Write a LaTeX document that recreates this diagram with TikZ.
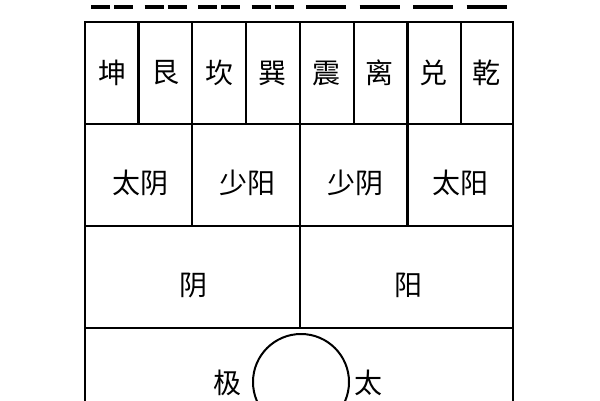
\documentclass[tikz,border=0pt]{standalone}
\usepackage{fontspec}
\newfontfamily\cjk{Noto Sans CJK SC}
\begin{document}
\begin{tikzpicture}[x=1pt,y=-1pt,
  grid/.style={line width=2.8pt,line cap=rect},
  yao/.style={line width=4pt},
  lbl/.style={font=\cjk\fontsize{28}{28}\selectfont,inner sep=0pt,anchor=center}]
\useasboundingbox (0,0) rectangle (600,400);
\begin{scope}
\clip (0,0) rectangle (600,400);
% trigrams: bottom line at y=7, lines above (cut off)
\foreach \i/\a/\b/\c in {0/0/0/0,1/0/0/1,2/0/1/0,3/0/1/1,4/1/0/0,5/1/0/1,6/1/1/0,7/1/1/1}{
  \pgfmathsetmacro{\cx}{112+53.5*\i}
  \foreach \v/\yy in {\a/7,\b/-6,\c/-19}{
    \ifnum\v=1
      \draw[yao] (\cx-20,\yy) -- (\cx+20,\yy);
    \else
      \draw[yao] (\cx-21,\yy) -- (\cx-2,\yy);
      \draw[yao] (\cx+2,\yy) -- (\cx+21,\yy);
    \fi
  }
}
% grid
\draw[grid] (85,430) -- (85,22) -- (513,22) -- (513,430);
\draw[grid] (85,124) -- (513,124);
\draw[grid] (85,226) -- (513,226);
\draw[grid] (85,328) -- (513,328);
\foreach \x in {138.5,192,246,300,354,407.5,461}{
  \draw[grid] (\x,22) -- (\x,124);
}
\foreach \x in {192,300,407.5}{
  \draw[grid] (\x,124) -- (\x,226);
}
\draw[grid] (300,226) -- (300,328);
\node[circle,draw,line width=2pt,minimum size=96pt,inner sep=0pt] (taiji) at (301,382) {};
\end{scope}
% labels
\foreach \i/\t in {0/坤,1/艮,2/坎,3/巽,4/震,5/离,6/兑,7/乾}{
  \node[lbl] (g\i) at (112+53.5*\i,73) {\t};
}
\node[lbl] (taiyin) at (140,183) {太阴};
\node[lbl] (shaoyang) at (247,183) {少阳};
\node[lbl] (shaoyin) at (355,183) {少阴};
\node[lbl] (taiyang) at (460,183) {太阳};
\node[lbl] (yin) at (193,285) {阴};
\node[lbl] (yang) at (408,285) {阳};
\node[lbl] (ji) at (227,383) {极};
\node[lbl] (tai) at (368,383) {太};
\end{tikzpicture}
\end{document}
